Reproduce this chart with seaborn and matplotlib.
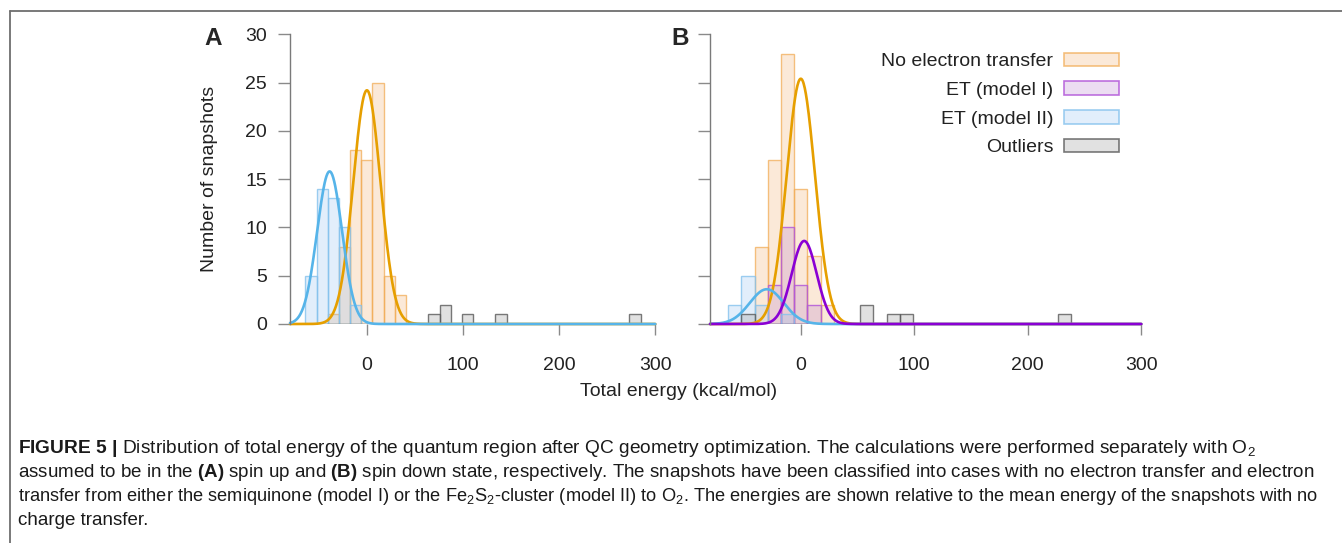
import numpy as np
import pandas as pd
import matplotlib
matplotlib.use("Agg")
import matplotlib.pyplot as plt
import matplotlib.patches as mpatches
from matplotlib.lines import Line2D
import seaborn as sns

# bin centres (kcal/mol) and counts
BIN_WIDTH = 11.62

a_noet_energy = [-34.9, -23.2, -11.6, 0.0, 11.6, 23.2, 34.9]
a_noet_count = [1, 8, 18, 17, 25, 5, 3]
a_et2_energy = [-58.1, -46.5, -34.9, -23.2, -11.6]
a_et2_count = [5, 14, 13, 10, 2]
a_out_energy = [69.7, 81.3, 104.6, 139.4, 278.9]
a_out_count = [1, 2, 1, 1, 1]

b_noet_energy = [-34.9, -23.2, -11.6, 0.0, 11.6, 23.2]
b_noet_count = [8, 17, 28, 14, 7, 2]
b_et1_energy = [-23.2, -11.6, 0.0, 11.6]
b_et1_count = [4, 10, 4, 2]
b_et2_energy = [-58.1, -46.5, -34.9, -11.6]
b_et2_count = [2, 5, 2, 1]
b_out_energy = [-46.5, 58.1, 81.3, 93.0, 232.4]
b_out_count = [1, 2, 1, 1, 1]

# fitted normal curves: (mean, sigma, peak height)
a_noet_fit = (0.0, 14.2, 24.2)
a_et2_fit = (-38.8, 13.0, 15.8)
b_noet_fit = (0.0, 12.5, 25.4)
b_et1_fit = (3.0, 11.0, 8.6)
b_et2_fit = (-30.0, 15.0, 3.6)

legend_labels = ["No electron transfer", "ET (model I)", "ET (model II)", "Outliers"]
x_ticks = [0, 100, 200, 300]
y_ticks = [0, 5, 10, 15, 20, 25, 30]

caption = [
    r"$\mathbf{FIGURE\ 5\ |}$ Distribution of total energy of the quantum region after QC geometry "
    r"optimization. The calculations were performed separately with O$_2$",
    r"assumed to be in the $\mathbf{(A)}$ spin up and $\mathbf{(B)}$ spin down state, respectively. "
    r"The snapshots have been classified into cases with no electron transfer and electron",
    r"transfer from either the semiquinone (model I) or the Fe$_2$S$_2$-cluster (model II) to O$_2$. "
    r"The energies are shown relative to the mean energy of the snapshots with no",
    "charge transfer.",
]
# right end of each caption line in the reference (pixels); None = natural width
caption_right = [1263, 1322, 1322, None]

sns.set_style("white")
plt.rcParams["font.family"] = ["Liberation Sans", "DejaVu Sans"]
plt.rcParams["mathtext.fontset"] = "custom"
plt.rcParams["mathtext.rm"] = "Liberation Sans"
plt.rcParams["mathtext.it"] = "Liberation Sans:italic"
plt.rcParams["mathtext.bf"] = "Liberation Sans:bold"

ORANGE = "#E69F00"
BLUE = "#56B4E9"
PURPLE = "#8A00D4"
TEXT = "#222222"
styles = {
    "noet": dict(facecolor=(0.94, 0.68, 0.42, 0.26), edgecolor=(0.95, 0.68, 0.34, 0.75)),
    "et1": dict(facecolor=(0.71, 0.48, 0.80, 0.25), edgecolor=(0.70, 0.35, 0.85, 0.85)),
    "et2": dict(facecolor=(0.55, 0.74, 0.94, 0.25), edgecolor=(0.52, 0.76, 0.93, 0.8)),
    "out": dict(facecolor=(0.62, 0.62, 0.62, 0.3), edgecolor=(0.35, 0.35, 0.35, 0.8)),
}

edges = list(-BIN_WIDTH / 2 + BIN_WIDTH * np.arange(-7, 27))
xs = np.linspace(-80, 300, 761)

W, H = 1342, 543
fig = plt.figure(figsize=(W / 100, H / 100), dpi=100)


def px_axes(left, right, top, bottom):
    return fig.add_axes([left / W, 1 - bottom / H, (right - left) / W, (bottom - top) / H])


ax_a = px_axes(290, 655.3, 34.3, 324)
ax_b = px_axes(710, 1141.3, 34.3, 324)


def bars(ax, energy, count, key):
    df = pd.DataFrame({"energy": energy, "count": count})
    sns.histplot(data=df, x="energy", weights="count", bins=edges, ax=ax,
                 element="bars", fill=True, linewidth=1.0, **styles[key])


def curve(ax, fit, color):
    mu, sd, h = fit
    ys = h * np.exp(-0.5 * ((xs - mu) / sd) ** 2)
    sns.lineplot(x=xs, y=ys, ax=ax, color=color, linewidth=1.9, clip_on=False)


bars(ax_a, a_noet_energy, a_noet_count, "noet")
bars(ax_a, a_et2_energy, a_et2_count, "et2")
bars(ax_a, a_out_energy, a_out_count, "out")
curve(ax_a, a_noet_fit, ORANGE)
curve(ax_a, a_et2_fit, BLUE)

bars(ax_b, b_noet_energy, b_noet_count, "noet")
bars(ax_b, b_et1_energy, b_et1_count, "et1")
bars(ax_b, b_et2_energy, b_et2_count, "et2")
bars(ax_b, b_out_energy, b_out_count, "out")
curve(ax_b, b_noet_fit, ORANGE)
curve(ax_b, b_et2_fit, BLUE)
curve(ax_b, b_et1_fit, PURPLE)

for ax in (ax_a, ax_b):
    ax.set_xlim(-80, 300)
    ax.set_ylim(0, 30)
    ax.set_xticks(x_ticks)
    ax.set_yticks(y_ticks)
    ax.set_xlabel("")
    ax.set_ylabel("")
    for side in ["top", "right", "bottom"]:
        ax.spines[side].set_visible(False)
    ax.spines["left"].set_color("#7a7a7a")
    ax.spines["left"].set_linewidth(1.0)
    ax.tick_params(axis="x", length=8, width=1, color="#8a8a8a", pad=15.5,
                   labelsize=14, labelcolor=TEXT, bottom=True)
    ax.tick_params(axis="y", length=8.6, width=1, color="#8a8a8a", pad=8,
                   labelsize=14, labelcolor=TEXT, left=True)
ax_b.tick_params(axis="y", labelleft=False)

handles = [mpatches.Patch(linewidth=1.2, **styles[k]) for k in ["noet", "et1", "et2", "out"]]
ax_b.legend(handles, legend_labels, loc="upper right", bbox_to_anchor=(0.949, 0.936),
            frameon=False, markerfirst=False, fontsize=14, handlelength=2.85,
            handleheight=0.69, handletextpad=0.55, labelspacing=0.57,
            borderpad=0, borderaxespad=0, labelcolor=TEXT)

fig.text(213 / W, 1 - 38.5 / H, "A", fontsize=17.5, fontweight="bold", ha="center", va="center")
fig.text(680 / W, 1 - 38.5 / H, "B", fontsize=17.5, fontweight="bold", ha="center", va="center")
fig.text(209 / W, 1 - 178.5 / H, "Number of snapshots", rotation=90, fontsize=14,
         color=TEXT, ha="center", va="center")
fig.text(678.5 / W, 1 - 391 / H, "Total energy (kcal/mol)", fontsize=14,
         color=TEXT, ha="center", va="center")

# caption: shrink each justified line until it ends where the reference line ends
renderer = fig.canvas.get_renderer()
last_size = 13.6
for i, (line, right) in enumerate(zip(caption, caption_right)):
    size = 14.2 if right is not None else last_size
    t = fig.text(18 / W, 1 - (453 + 24 * i) / H, line, fontsize=size, color="#1a1a1a",
                 ha="left", va="baseline")
    if right is not None:
        while t.get_window_extent(renderer).x1 > right and size > 11:
            size -= 0.05
            t.set_fontsize(size)
        if i == 1:
            last_size = size

frame = "#6e6e6e"
fig.add_artist(Line2D([9.5 / W, 1], [1 - 10.5 / H, 1 - 10.5 / H], transform=fig.transFigure,
                      color=frame, linewidth=1.3))
fig.add_artist(Line2D([9.5 / W, 9.5 / W], [0, 1 - 10.5 / H], transform=fig.transFigure,
                      color=frame, linewidth=1.3))

fig.savefig("out.png", dpi=100)
